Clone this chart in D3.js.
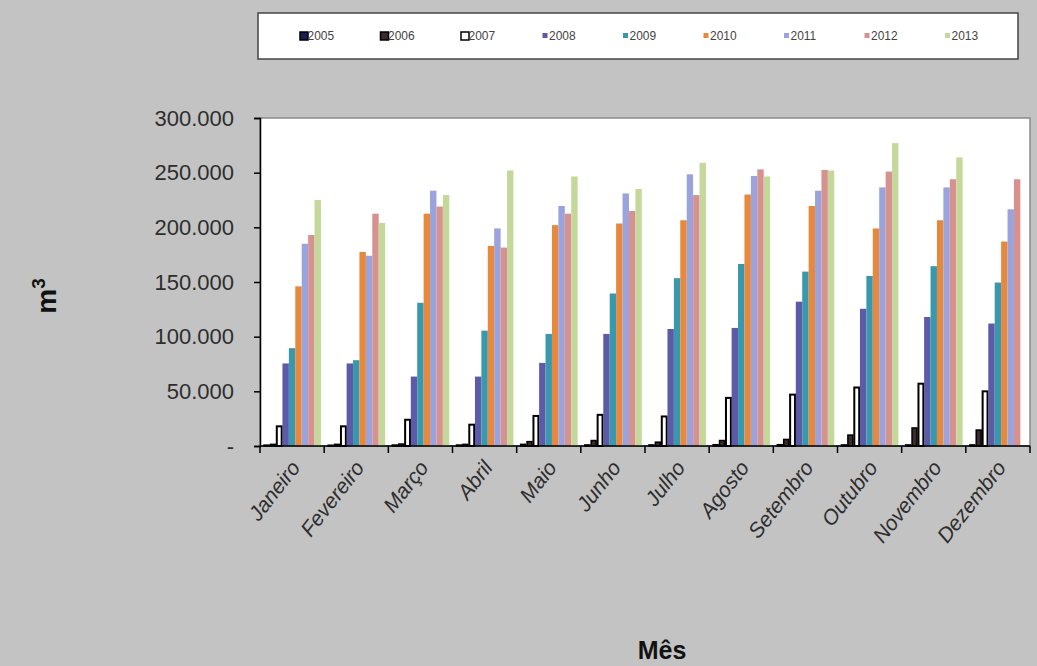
<!DOCTYPE html>
<html>
<head>
<meta charset="utf-8">
<script src="https://cdn.jsdelivr.net/npm/d3@7"></script>
<style>
  html, body { margin: 0; padding: 0; background: #c3c3c3; }
  svg { display: block; }
  text { font-family: "Liberation Sans", Arial, sans-serif; }
</style>
</head>
<body>
<svg id="chart" width="1037" height="666"></svg>
<script>
// Monthly volume (m³) by year
const months = ["Janeiro", "Fevereiro", "Março", "Abril", "Maio", "Junho",
                "Julho", "Agosto", "Setembro", "Outubro", "Novembro", "Dezembro"];
const years = ["2005", "2006", "2007", "2008", "2009", "2010", "2011", "2012", "2013"];

const v2005 = [800, 700, 900, 900, 1500, 1000, 1000, 1200, 1200, 1000, 1000, 1000];
const v2006 = [1500, 1500, 1800, 1500, 4000, 5000, 3500, 5000, 6000, 10000, 16500, 14600];
const v2007 = [18000, 18000, 24000, 19500, 27500, 28500, 27000, 44000, 47000, 53500, 57000, 50000];
const v2008 = [75500, 75500, 63500, 63500, 76000, 102500, 107000, 108000, 132000, 125500, 118000, 112000];
const v2009 = [89500, 78500, 131000, 105500, 102500, 139500, 153500, 166500, 159500, 155500, 164500, 149500];
const v2010 = [146000, 177500, 212500, 183000, 202000, 203500, 206500, 230000, 219500, 199000, 206500, 187000];
const v2011 = [185000, 174000, 233500, 199000, 219500, 231000, 248500, 247000, 233500, 236500, 236500, 216500];
const v2012 = [193000, 212500, 219000, 181500, 212500, 215000, 229500, 253000, 252500, 251000, 244000, 244000];
const v2013 = [225000, 204000, 229500, 252000, 246500, 235000, 259000, 246500, 252000, 277000, 264000, 0];

const seriesValues = [v2005, v2006, v2007, v2008, v2009, v2010, v2011, v2012, v2013];
const yTicks = [0, 50000, 100000, 150000, 200000, 250000, 300000];

const fills   = ["#1c1c55", "#3a2c2c", "#ffffff", "#5b5ba8", "#3a98ae", "#e8883c", "#9aa3dc", "#d7928f", "#c4d89b"];
const strokes = ["#000", "#000", "#000", null, null, null, null, null, null];

const svg = d3.select("#chart");
const plot = { left: 260, right: 1030, top: 118, bottom: 446 };

const x = d3.scaleBand().domain(months).range([plot.left, plot.right]).padding(0);
const xs = d3.scaleBand().domain(years).range([0, x.bandwidth()]).paddingInner(0).paddingOuter(0.5);
const y = d3.scaleLinear().domain([0, 300000]).range([plot.bottom, plot.top]);

// plot area
svg.append("rect")
  .attr("x", plot.left).attr("y", plot.top)
  .attr("width", plot.right - plot.left).attr("height", plot.bottom - plot.top)
  .attr("fill", "#ffffff").attr("stroke", "#8a8a8a").attr("stroke-width", 1.5);

// bars
const rows = [];
months.forEach((m, i) => {
  years.forEach((yr, j) => {
    rows.push({ month: m, year: yr, idx: j, value: seriesValues[j][i] });
  });
});

svg.append("g").selectAll("rect")
  .data(rows.filter(d => d.value > 0))
  .join("rect")
  .attr("x", d => x(d.month) + xs(d.year) + (strokes[d.idx] ? 0.75 : 0))
  .attr("y", d => y(d.value))
  .attr("width", d => xs.bandwidth() - (strokes[d.idx] ? 1.5 : 0))
  .attr("height", d => y(0) - y(d.value))
  .attr("fill", d => fills[d.idx])
  .attr("stroke", d => strokes[d.idx] || "none")
  .attr("stroke-width", d => d.idx === 2 ? 2 : 1.5);

// y axis
const fmt = v => v === 0 ? "-" : d3.format(",")(v).replace(/,/g, ".");
const yAxis = d3.axisLeft(y).tickValues(yTicks).tickSize(6).tickPadding(20).tickFormat(fmt);
const gy = svg.append("g").attr("transform", `translate(${plot.left},0)`).call(yAxis);
gy.select(".domain").attr("stroke", "#000").attr("stroke-width", 1.5);
gy.selectAll(".tick line").attr("stroke", "#000").attr("stroke-width", 1.5);
gy.selectAll(".tick text")
  .attr("font-size", 22).attr("fill", "#2e2e2e")
  .style("font-family", "'Liberation Sans', Arial, sans-serif");

// x axis: ticks on category boundaries
svg.append("line")
  .attr("x1", plot.left).attr("x2", plot.right)
  .attr("y1", plot.bottom).attr("y2", plot.bottom)
  .attr("stroke", "#000").attr("stroke-width", 1.5);
svg.append("g").selectAll("line")
  .data(months.concat(["end"]))
  .join("line")
  .attr("x1", (d, i) => i < months.length ? x(d) : plot.right)
  .attr("x2", (d, i) => i < months.length ? x(d) : plot.right)
  .attr("y1", plot.bottom).attr("y2", plot.bottom + 7)
  .attr("stroke", "#000").attr("stroke-width", 1.5);

// month labels, rotated
svg.append("g").selectAll("text")
  .data(months)
  .join("text")
  .attr("transform", d => `translate(${x(d) + x.bandwidth() / 2 + 9},${plot.bottom + 22}) rotate(-52)`)
  .attr("text-anchor", "end")
  .attr("font-size", 21)
  .attr("font-style", "italic")
  .attr("fill", "#2e2e2e")
  .text(d => d);

// axis titles
const yt = svg.append("text")
  .attr("transform", "translate(56,296) rotate(-90)")
  .attr("text-anchor", "middle")
  .attr("font-size", 28).attr("font-weight", "bold").attr("fill", "#111");
yt.append("tspan").text("m");
yt.append("tspan").attr("font-size", 19).attr("dy", -11).text("3");

svg.append("text")
  .attr("x", 662).attr("y", 659)
  .attr("text-anchor", "middle")
  .attr("font-size", 25).attr("font-weight", "bold").attr("fill", "#111")
  .text("Mês");

// legend
const legend = svg.append("g");
legend.append("rect")
  .attr("x", 258).attr("y", 13).attr("width", 760).attr("height", 46)
  .attr("fill", "#ffffff").attr("stroke", "#444").attr("stroke-width", 1.5);

const lx = d3.scalePoint().domain(years).range([302, 946]);
const li = legend.selectAll("g.item").data(years).join("g")
  .attr("class", "item")
  .attr("transform", d => `translate(${lx(d)},40)`);
li.append("rect")
  .attr("x", (d, i) => i < 3 ? -2 : -1).attr("y", (d, i) => i < 3 ? -8 : -7)
  .attr("width", (d, i) => i < 3 ? 8 : 5).attr("height", (d, i) => i < 3 ? 8 : 5)
  .attr("fill", (d, i) => fills[i])
  .attr("stroke", (d, i) => strokes[i] || "none")
  .attr("stroke-width", 1.5);
li.append("text")
  .attr("x", 6).attr("y", 0)
  .attr("font-size", 13).attr("fill", "#444")
  .style("font-family", "'Liberation Sans Narrow', 'Liberation Sans', Arial, sans-serif")
  .attr("transform", "scale(0.92,1.05)")
  .text(d => d);
</script>
</body>
</html>
